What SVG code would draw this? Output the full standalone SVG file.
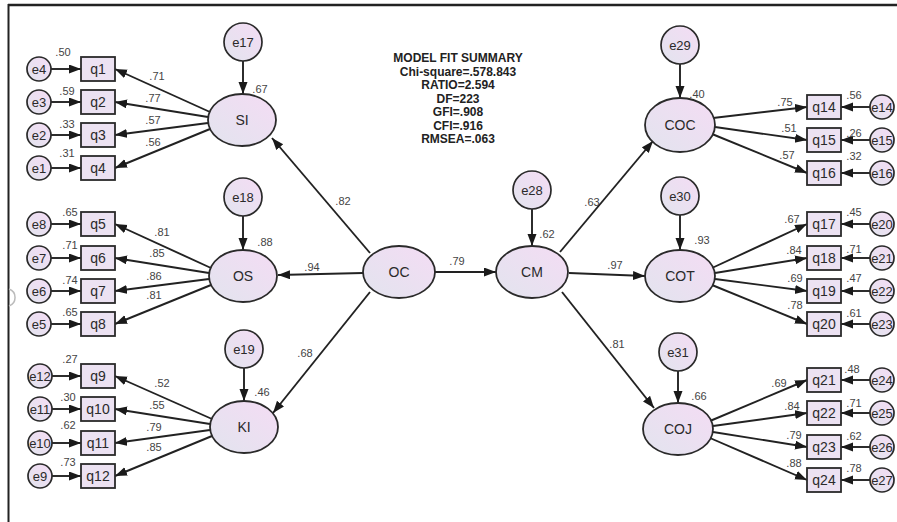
<svg xmlns="http://www.w3.org/2000/svg" width="897" height="522" viewBox="0 0 897 522">
<defs>
<linearGradient id="g" x1="0" y1="1" x2="1" y2="0">
<stop offset="0" stop-color="#e2e4ee"/>
<stop offset="1" stop-color="#f4dcf4"/>
</linearGradient>
<marker id="ah" markerUnits="userSpaceOnUse" markerWidth="13" markerHeight="10" refX="12" refY="4.5" orient="auto">
<path d="M0,0 L12,4.5 L0,9 z" fill="#1a1a1a"/>
</marker>
</defs>
<style>
.lat{fill:url(#g);stroke:#2a2a2a;stroke-width:1.8}
.err{fill:url(#g);stroke:#2a2a2a;stroke-width:1.7}
.box{fill:#ece2f2;stroke:#2a2a2a;stroke-width:1.8}
.cn line{stroke:#222;stroke-width:1.9;marker-end:url(#ah)}
text{font-family:"Liberation Sans",Arial,sans-serif}
.nl{font-size:14px;fill:#2a2a2a;text-anchor:middle}
.el{font-size:13px;fill:#2a2a2a;text-anchor:middle}
.v{font-size:11px;fill:#444;text-anchor:middle}
.fit{font-size:12px;font-weight:bold;fill:#222;text-anchor:middle}
</style>
<rect width="897" height="522" fill="#fff"/>
<line x1="8" y1="5" x2="897" y2="5" stroke="#222" stroke-width="2.5"/>
<line x1="8.5" y1="4" x2="8.5" y2="522" stroke="#222" stroke-width="2"/>
<path d="M9 289 A9 9 0 0 1 9 306" fill="none" stroke="#bbb" stroke-width="1.5"/>

<g id="fit">
<text class="fit" x="458" y="62">MODEL FIT SUMMARY</text>
<text class="fit" x="458" y="76">Chi-square=.578.843</text>
<text class="fit" x="458" y="89">RATIO=2.594</text>
<text class="fit" x="458" y="103">DF=223</text>
<text class="fit" x="458" y="116">GFI=.908</text>
<text class="fit" x="458" y="130">CFI=.916</text>
<text class="fit" x="458" y="143">RMSEA=.063</text>
</g>

<g class="cn" id="connectors">
<line x1="51" y1="69" x2="81" y2="69"/>
<line x1="51" y1="102" x2="81" y2="102"/>
<line x1="51" y1="135" x2="81" y2="135"/>
<line x1="51" y1="168" x2="81" y2="168"/>
<line x1="51" y1="224" x2="81" y2="224"/>
<line x1="51" y1="258" x2="81" y2="258"/>
<line x1="51" y1="291" x2="81" y2="291"/>
<line x1="51" y1="324" x2="81" y2="324"/>
<line x1="52" y1="376" x2="81" y2="376"/>
<line x1="52" y1="409" x2="81" y2="409"/>
<line x1="52" y1="443" x2="81" y2="443"/>
<line x1="52" y1="476" x2="81" y2="476"/>
<line x1="210" y1="112" x2="115" y2="69"/>
<line x1="208" y1="117" x2="115" y2="102"/>
<line x1="208" y1="123" x2="115" y2="135"/>
<line x1="210" y1="129" x2="115" y2="168"/>
<line x1="211" y1="268" x2="115" y2="224"/>
<line x1="209" y1="273" x2="115" y2="258"/>
<line x1="209" y1="279" x2="115" y2="291"/>
<line x1="211" y1="285" x2="115" y2="324"/>
<line x1="212" y1="419" x2="115" y2="376"/>
<line x1="210" y1="424" x2="115" y2="409"/>
<line x1="210" y1="430" x2="115" y2="443"/>
<line x1="212" y1="436" x2="115" y2="476"/>
<line x1="243" y1="61" x2="243" y2="94"/>
<line x1="243" y1="216" x2="243" y2="250"/>
<line x1="244" y1="368" x2="244" y2="401"/>
<line x1="532" y1="209" x2="532" y2="246"/>
<line x1="680" y1="64" x2="680" y2="98"/>
<line x1="680" y1="215" x2="680" y2="250"/>
<line x1="678" y1="371" x2="678" y2="403"/>
<line x1="370" y1="253" x2="272" y2="138"/>
<line x1="363" y1="273" x2="278" y2="275"/>
<line x1="370" y1="292" x2="273" y2="413"/>
<line x1="435" y1="272" x2="496" y2="272"/>
<line x1="560" y1="252" x2="653" y2="141"/>
<line x1="569" y1="273" x2="645" y2="276"/>
<line x1="562" y1="292" x2="654" y2="408"/>
<line x1="713" y1="118" x2="807" y2="107"/>
<line x1="715" y1="127" x2="807" y2="140"/>
<line x1="712" y1="134" x2="807" y2="173"/>
<line x1="712" y1="268" x2="807" y2="224"/>
<line x1="715" y1="273" x2="807" y2="258"/>
<line x1="715" y1="279" x2="807" y2="291"/>
<line x1="712" y1="285" x2="807" y2="324"/>
<line x1="710" y1="421" x2="807" y2="380"/>
<line x1="713" y1="426" x2="807" y2="413"/>
<line x1="713" y1="432" x2="807" y2="447"/>
<line x1="710" y1="438" x2="807" y2="480"/>
<line x1="870" y1="107" x2="841" y2="107"/>
<line x1="870" y1="140" x2="841" y2="140"/>
<line x1="870" y1="173" x2="841" y2="173"/>
<line x1="870" y1="224" x2="841" y2="224"/>
<line x1="870" y1="258" x2="841" y2="258"/>
<line x1="870" y1="291" x2="841" y2="291"/>
<line x1="870" y1="324" x2="841" y2="324"/>
<line x1="870" y1="380" x2="841" y2="380"/>
<line x1="870" y1="413" x2="841" y2="413"/>
<line x1="870" y1="447" x2="841" y2="447"/>
<line x1="870" y1="480" x2="841" y2="480"/>
</g>

<g id="SI"><ellipse class="lat" cx="242" cy="120" rx="34" ry="26"/><text class="nl" x="242" y="125">SI</text></g>
<g id="OS"><ellipse class="lat" cx="243" cy="276" rx="34" ry="26"/><text class="nl" x="243" y="281">OS</text></g>
<g id="KI"><ellipse class="lat" cx="244" cy="427" rx="34" ry="26"/><text class="nl" x="244" y="432">KI</text></g>
<g id="OC"><ellipse class="lat" cx="399" cy="272" rx="36" ry="26"/><text class="nl" x="399" y="277">OC</text></g>
<g id="CM"><ellipse class="lat" cx="532" cy="272" rx="36" ry="26"/><text class="nl" x="532" y="277">CM</text></g>
<g id="COC"><ellipse class="lat" cx="680" cy="125" rx="35" ry="27"/><text class="nl" x="680" y="130">COC</text></g>
<g id="COT"><ellipse class="lat" cx="680" cy="276" rx="35" ry="26"/><text class="nl" x="680" y="281">COT</text></g>
<g id="COJ"><ellipse class="lat" cx="678" cy="429" rx="35" ry="26"/><text class="nl" x="678" y="434">COJ</text></g>

<g id="e17"><circle class="err" cx="243" cy="42" r="19"/><text class="el" x="243" y="47">e17</text></g>
<g id="e18"><circle class="err" cx="243" cy="197" r="19"/><text class="el" x="243" y="202">e18</text></g>
<g id="e19"><circle class="err" cx="244" cy="349" r="19"/><text class="el" x="244" y="354">e19</text></g>
<g id="e28"><circle class="err" cx="532" cy="190" r="19"/><text class="el" x="532" y="195">e28</text></g>
<g id="e29"><circle class="err" cx="680" cy="45" r="19"/><text class="el" x="680" y="50">e29</text></g>
<g id="e30"><circle class="err" cx="680" cy="196" r="19"/><text class="el" x="680" y="201">e30</text></g>
<g id="e31"><circle class="err" cx="678" cy="352" r="19"/><text class="el" x="678" y="357">e31</text></g>

<g id="q1"><rect class="box" x="81" y="57" width="34" height="24"/><text class="nl" x="98" y="74">q1</text></g>
<g id="q2"><rect class="box" x="81" y="90" width="34" height="24"/><text class="nl" x="98" y="107">q2</text></g>
<g id="q3"><rect class="box" x="81" y="123" width="34" height="24"/><text class="nl" x="98" y="140">q3</text></g>
<g id="q4"><rect class="box" x="81" y="156" width="34" height="24"/><text class="nl" x="98" y="173">q4</text></g>
<g id="q5"><rect class="box" x="81" y="212" width="34" height="24"/><text class="nl" x="98" y="229">q5</text></g>
<g id="q6"><rect class="box" x="81" y="246" width="34" height="24"/><text class="nl" x="98" y="263">q6</text></g>
<g id="q7"><rect class="box" x="81" y="279" width="34" height="24"/><text class="nl" x="98" y="296">q7</text></g>
<g id="q8"><rect class="box" x="81" y="312" width="34" height="24"/><text class="nl" x="98" y="329">q8</text></g>
<g id="q9"><rect class="box" x="81" y="364" width="34" height="24"/><text class="nl" x="98" y="381">q9</text></g>
<g id="q10"><rect class="box" x="81" y="397" width="34" height="24"/><text class="nl" x="98" y="414">q10</text></g>
<g id="q11"><rect class="box" x="81" y="431" width="34" height="24"/><text class="nl" x="98" y="448">q11</text></g>
<g id="q12"><rect class="box" x="81" y="464" width="34" height="24"/><text class="nl" x="98" y="481">q12</text></g>

<g id="e4"><circle class="err" cx="39" cy="69" r="12"/><text class="el" x="39" y="74">e4</text></g>
<g id="e3"><circle class="err" cx="39" cy="102" r="12"/><text class="el" x="39" y="107">e3</text></g>
<g id="e2"><circle class="err" cx="39" cy="135" r="12"/><text class="el" x="39" y="140">e2</text></g>
<g id="e1"><circle class="err" cx="39" cy="168" r="12"/><text class="el" x="39" y="173">e1</text></g>
<g id="e8"><circle class="err" cx="39" cy="224" r="12"/><text class="el" x="39" y="229">e8</text></g>
<g id="e7"><circle class="err" cx="39" cy="258" r="12"/><text class="el" x="39" y="263">e7</text></g>
<g id="e6"><circle class="err" cx="39" cy="291" r="12"/><text class="el" x="39" y="296">e6</text></g>
<g id="e5"><circle class="err" cx="39" cy="324" r="12"/><text class="el" x="39" y="329">e5</text></g>
<g id="e12"><circle class="err" cx="40" cy="376" r="12"/><text class="el" x="40" y="381">e12</text></g>
<g id="e11"><circle class="err" cx="40" cy="409" r="12"/><text class="el" x="40" y="414">e11</text></g>
<g id="e10"><circle class="err" cx="40" cy="443" r="12"/><text class="el" x="40" y="448">e10</text></g>
<g id="e9"><circle class="err" cx="40" cy="476" r="12"/><text class="el" x="40" y="481">e9</text></g>

<g id="q14"><rect class="box" x="807" y="95" width="34" height="24"/><text class="nl" x="824" y="112">q14</text></g>
<g id="q15"><rect class="box" x="807" y="128" width="34" height="24"/><text class="nl" x="824" y="145">q15</text></g>
<g id="q16"><rect class="box" x="807" y="161" width="34" height="24"/><text class="nl" x="824" y="178">q16</text></g>
<g id="q17"><rect class="box" x="807" y="212" width="34" height="24"/><text class="nl" x="824" y="229">q17</text></g>
<g id="q18"><rect class="box" x="807" y="246" width="34" height="24"/><text class="nl" x="824" y="263">q18</text></g>
<g id="q19"><rect class="box" x="807" y="279" width="34" height="24"/><text class="nl" x="824" y="296">q19</text></g>
<g id="q20"><rect class="box" x="807" y="312" width="34" height="24"/><text class="nl" x="824" y="329">q20</text></g>
<g id="q21"><rect class="box" x="807" y="368" width="34" height="24"/><text class="nl" x="824" y="385">q21</text></g>
<g id="q22"><rect class="box" x="807" y="401" width="34" height="24"/><text class="nl" x="824" y="418">q22</text></g>
<g id="q23"><rect class="box" x="807" y="435" width="34" height="24"/><text class="nl" x="824" y="452">q23</text></g>
<g id="q24"><rect class="box" x="807" y="468" width="34" height="24"/><text class="nl" x="824" y="485">q24</text></g>

<g id="e14"><circle class="err" cx="882" cy="107" r="12"/><text class="el" x="882" y="112">e14</text></g>
<g id="e15"><circle class="err" cx="882" cy="140" r="12"/><text class="el" x="882" y="145">e15</text></g>
<g id="e16"><circle class="err" cx="882" cy="173" r="12"/><text class="el" x="882" y="178">e16</text></g>
<g id="e20"><circle class="err" cx="882" cy="224" r="12"/><text class="el" x="882" y="229">e20</text></g>
<g id="e21"><circle class="err" cx="882" cy="258" r="12"/><text class="el" x="882" y="263">e21</text></g>
<g id="e22"><circle class="err" cx="882" cy="291" r="12"/><text class="el" x="882" y="296">e22</text></g>
<g id="e23"><circle class="err" cx="882" cy="324" r="12"/><text class="el" x="882" y="329">e23</text></g>
<g id="e24"><circle class="err" cx="882" cy="380" r="12"/><text class="el" x="882" y="385">e24</text></g>
<g id="e25"><circle class="err" cx="882" cy="413" r="12"/><text class="el" x="882" y="418">e25</text></g>
<g id="e26"><circle class="err" cx="882" cy="447" r="12"/><text class="el" x="882" y="452">e26</text></g>
<g id="e27"><circle class="err" cx="882" cy="480" r="12"/><text class="el" x="882" y="485">e27</text></g>

<g id="values">
<text class="v" x="63" y="56">.50</text>
<text class="v" x="67" y="95">.59</text>
<text class="v" x="67" y="128">.33</text>
<text class="v" x="67" y="157">.31</text>
<text class="v" x="157" y="80">.71</text>
<text class="v" x="153" y="102">.77</text>
<text class="v" x="153" y="124">.57</text>
<text class="v" x="153" y="146">.56</text>
<text class="v" x="260" y="93">.67</text>
<text class="v" x="70" y="216">.65</text>
<text class="v" x="70" y="249">.71</text>
<text class="v" x="70" y="284">.74</text>
<text class="v" x="70" y="316">.65</text>
<text class="v" x="162" y="236">.81</text>
<text class="v" x="157" y="257">.85</text>
<text class="v" x="154" y="280">.86</text>
<text class="v" x="154" y="299">.81</text>
<text class="v" x="265" y="246">.88</text>
<text class="v" x="70" y="363">.27</text>
<text class="v" x="68" y="401">.30</text>
<text class="v" x="68" y="429">.62</text>
<text class="v" x="68" y="466">.73</text>
<text class="v" x="162" y="387">.52</text>
<text class="v" x="157" y="409">.55</text>
<text class="v" x="154" y="431">.79</text>
<text class="v" x="154" y="451">.85</text>
<text class="v" x="262" y="396">.46</text>
<text class="v" x="343" y="205">.82</text>
<text class="v" x="312" y="271">.94</text>
<text class="v" x="305" y="357">.68</text>
<text class="v" x="457" y="265">.79</text>
<text class="v" x="547" y="238">.62</text>
<text class="v" x="592" y="206">.63</text>
<text class="v" x="615" y="269">.97</text>
<text class="v" x="617" y="348">.81</text>
<text class="v" x="697" y="98">.40</text>
<text class="v" x="785" y="106">.75</text>
<text class="v" x="854" y="99">.56</text>
<text class="v" x="789" y="132">.51</text>
<text class="v" x="854" y="137">.26</text>
<text class="v" x="787" y="159">.57</text>
<text class="v" x="854" y="160">.32</text>
<text class="v" x="702" y="244">.93</text>
<text class="v" x="792" y="223">.67</text>
<text class="v" x="854" y="216">.45</text>
<text class="v" x="794" y="254">.84</text>
<text class="v" x="854" y="253">.71</text>
<text class="v" x="795" y="282">.69</text>
<text class="v" x="854" y="282">.47</text>
<text class="v" x="795" y="309">.78</text>
<text class="v" x="854" y="317">.61</text>
<text class="v" x="699" y="400">.66</text>
<text class="v" x="779" y="387">.69</text>
<text class="v" x="852" y="373">.48</text>
<text class="v" x="792" y="410">.84</text>
<text class="v" x="854" y="407">.71</text>
<text class="v" x="794" y="439">.79</text>
<text class="v" x="854" y="440">.62</text>
<text class="v" x="794" y="467">.88</text>
<text class="v" x="854" y="472">.78</text>
</g>
</svg>
